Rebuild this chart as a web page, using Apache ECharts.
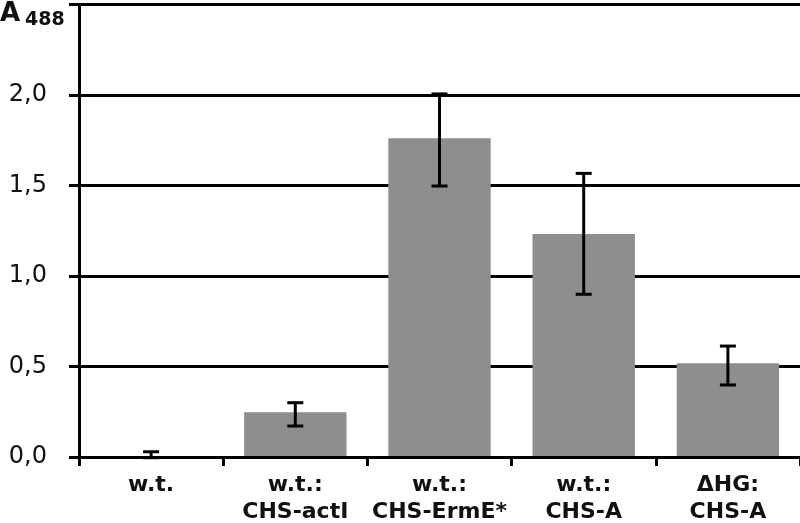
<!DOCTYPE html>
<html>
<head>
<meta charset="utf-8">
<script src="https://cdn.jsdelivr.net/npm/echarts@6/dist/echarts.min.js"></script>
<style>html,body{margin:0;padding:0;background:#fff}#c{width:800px;height:523px}</style>
</head>
<body>
<div id="c"></div>
<script>
var categories = ['w.t.', 'w.t.:\nCHS-actI', 'w.t.:\nCHS-ErmE*', 'w.t.:\nCHS-A', '\u0394HG:\nCHS-A'];
var values = [0.004, 0.247, 1.761, 1.232, 0.518];
var errLow = [-0.004, 0.171, 1.497, 0.899, 0.398];
var errHigh = [0.029, 0.300, 2.006, 1.567, 0.613];
var yTicks = [0, 0.5, 1.0, 1.5, 2.0, 2.5];
var yTickLabels = ['0,0', '0,5', '1,0', '1,5', '2,0', ''];
var yTitle = 'A';
var yTitleSub = '488';

var chart = echarts.init(document.getElementById('c'), null, {renderer: 'canvas'});
var errData = categories.map(function (c, i) { return [i, errLow[i], errHigh[i]]; });

chart.setOption({
  animation: false,
  backgroundColor: '#fff',
  grid: {left: 79, right: 0, top: 4.5, bottom: 66, containLabel: false, outerBoundsMode: 'none'},
  xAxis: {
    type: 'category',
    data: categories,
    z: 3,
    axisLine: {lineStyle: {color: '#000', width: 3}},
    axisTick: {show: true, length: 9, lineStyle: {color: '#000', width: 3}},
    axisLabel: {
      color: '#111', fontFamily: 'DejaVu Sans', fontWeight: 'bold', fontSize: 22,
      lineHeight: 27, margin: 15, interval: 0
    }
  },
  yAxis: {
    type: 'value',
    min: yTicks[0], max: yTicks[yTicks.length - 1], interval: 0.5,
    axisLine: {show: true, lineStyle: {color: '#000', width: 3}},
    axisTick: {show: true, length: 10, lineStyle: {color: '#000', width: 3}},
    splitLine: {show: true, lineStyle: {color: '#000', width: 3}},
    axisLabel: {
      color: '#111', fontFamily: 'DejaVu Sans', fontSize: 24, margin: 32,
      formatter: function (v) {
        var i = yTicks.indexOf(Math.round(v * 10) / 10);
        return i >= 0 ? yTickLabels[i] : '';
      }
    }
  },
  series: [
    {
      type: 'bar',
      data: values,
      barWidth: '71%',
      itemStyle: {color: '#8e8e8e'},
      z: 2
    },
    {
      type: 'custom',
      data: errData,
      z: 5,
      renderItem: function (params, api) {
        var x = api.value(0);
        var lo = api.coord([x, api.value(1)]);
        var hi = api.coord([x, api.value(2)]);
        var hw = 8;
        var st = {stroke: '#000', lineWidth: 3};
        return {
          type: 'group',
          children: [
            {type: 'line', shape: {x1: lo[0], y1: lo[1], x2: hi[0], y2: hi[1]}, style: st},
            {type: 'line', shape: {x1: hi[0] - hw, y1: hi[1], x2: hi[0] + hw, y2: hi[1]}, style: st},
            {type: 'line', shape: {x1: lo[0] - hw, y1: lo[1], x2: lo[0] + hw, y2: lo[1]}, style: st}
          ]
        };
      }
    }
  ],
  graphic: [
    {type: 'text', x: 0, y: 1, style: {text: yTitle, font: 'bold 26px "DejaVu Sans"', fill: '#111'}},
    {type: 'text', x: 25, y: 11, style: {text: yTitleSub, font: 'bold 19px "DejaVu Sans"', fill: '#111'}}
  ]
});
</script>
</body>
</html>
